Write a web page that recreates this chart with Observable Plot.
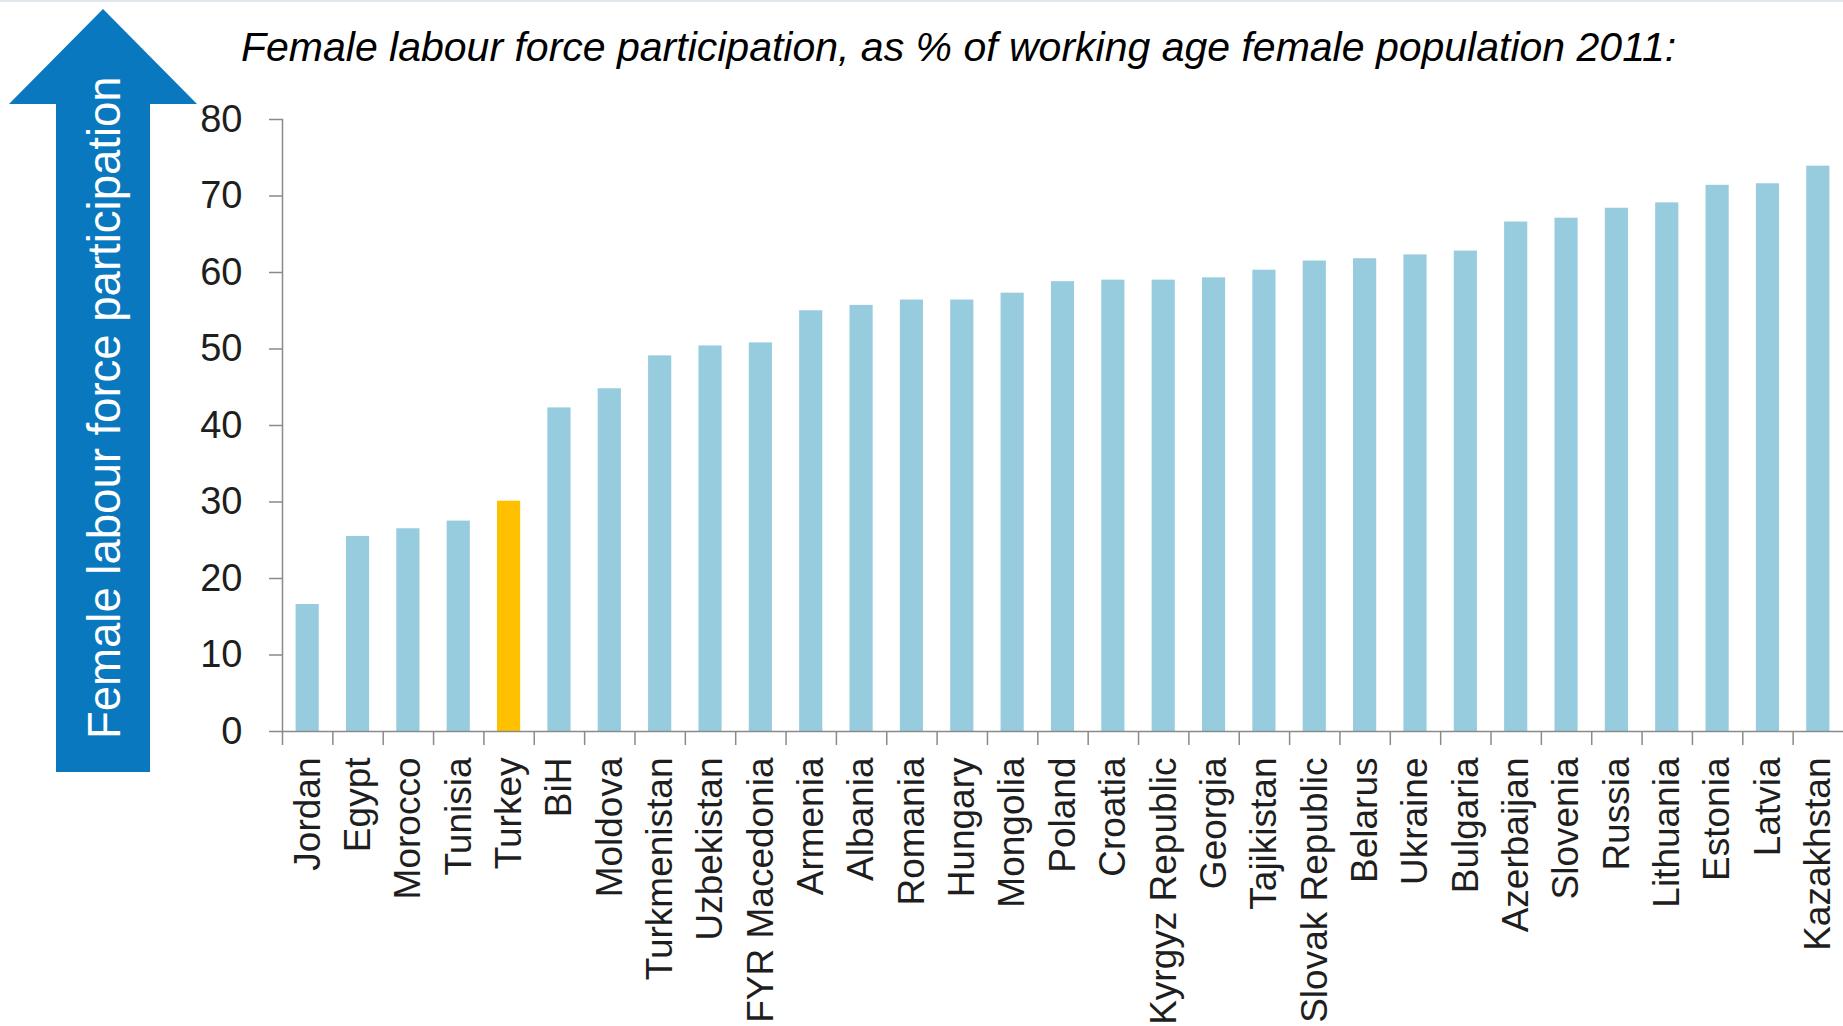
<!DOCTYPE html>
<html>
<head>
<meta charset="utf-8">
<script src="https://cdn.jsdelivr.net/npm/d3@7"></script>
<script src="https://cdn.jsdelivr.net/npm/@observablehq/plot@0.6"></script>
<style>
  body { margin: 0; background: #ffffff; }
  #wrap { position: relative; width: 1843px; height: 1026px; overflow: hidden; }
  #wrap > svg { position: absolute; left: 0; top: 0; }
</style>
</head>
<body>
<div id="wrap"></div>
<script>
// Female labour force participation (% of working-age female population), 2011
const countries = [
  "Jordan", "Egypt", "Morocco", "Tunisia", "Turkey", "BiH", "Moldova",
  "Turkmenistan", "Uzbekistan", "FYR Macedonia", "Armenia", "Albania",
  "Romania", "Hungary", "Mongolia", "Poland", "Croatia", "Kyrgyz Republic",
  "Georgia", "Tajikistan", "Slovak Republic", "Belarus", "Ukraine",
  "Bulgaria", "Azerbaijan", "Slovenia", "Russia", "Lithuania", "Estonia",
  "Latvia", "Kazakhstan"
];
const values = [
  16.6, 25.5, 26.5, 27.5, 30.1, 42.3, 44.8,
  49.1, 50.4, 50.8, 55.0, 55.7,
  56.4, 56.4, 57.3, 58.8, 59.0, 59.0,
  59.3, 60.3, 61.5, 61.8, 62.3,
  62.8, 66.6, 67.1, 68.4, 69.1, 71.4,
  71.6, 73.9
];
const highlighted = ["Turkey"];
const yTicks = [0, 10, 20, 30, 40, 50, 60, 70, 80];
const titleText = "Female labour force participation, as % of working age female population 2011:";
const arrowLabel = "Female labour force participation";

const data = countries.map((country, i) => ({country, value: values[i]}));

// page layout
const W = 1843, H = 1026;
const margin = {left: 282, right: 0, top: 119, bottom: 295};
const step = (W - margin.left - margin.right) / countries.length;
const barInset = step * 0.27;

const axisGrey = "#8a8a8a";
const labelInk = "#1e1e1e";
const barBlue = "#96ccdd";
const barGold = "#ffc000";
const font = "'Liberation Sans', Arial, sans-serif";

const chart = Plot.plot({
  width: W,
  height: H,
  marginLeft: margin.left,
  marginRight: margin.right,
  marginTop: margin.top,
  marginBottom: margin.bottom,
  style: {fontFamily: font, background: "transparent", overflow: "visible"},
  x: {domain: countries, padding: 0, round: false, label: null},
  y: {domain: [0, 80], label: null},
  marks: [
    Plot.barY(data.filter(d => !highlighted.includes(d.country)), {
      x: "country", y: "value", fill: barBlue, insetLeft: barInset, insetRight: barInset
    }),
    Plot.barY(data.filter(d => highlighted.includes(d.country)), {
      x: "country", y: "value", fill: barGold, insetLeft: barInset, insetRight: barInset
    }),
    Plot.frame({anchor: "left", stroke: axisGrey, strokeWidth: 1.5}),
    Plot.ruleY([0], {stroke: axisGrey, strokeWidth: 1.5}),
    Plot.axisY({
      ticks: yTicks, tickSize: 13, tickPadding: 27, fontSize: 38,
      stroke: axisGrey, strokeWidth: 1.5, fill: labelInk, label: null
    }),
    // category labels, rotated to read upward
    Plot.axisX({
      tickSize: 0, tickPadding: 26, tickRotate: -90, fontSize: 37,
      fill: labelInk, label: null
    }),
    // tick marks between categories
    Plot.axisX({
      tickSize: 14, text: null, dx: -step / 2,
      stroke: axisGrey, strokeWidth: 1.5, label: null
    })
  ]
});

const wrap = document.getElementById("wrap");
wrap.appendChild(chart);

// title and the upward arrow on the left
const overlay = d3.create("svg")
  .attr("width", W)
  .attr("height", H)
  .style("font-family", font);

overlay.append("line")
  .attr("x1", 0).attr("x2", W).attr("y1", 1).attr("y2", 1)
  .attr("stroke", "#dfe6ec").attr("stroke-width", 2);

const arrow = {tipX: 103, tipY: 9, headLeft: 9, headRight: 197, headY: 104, shaftLeft: 56, shaftRight: 150, bottom: 772};
overlay.append("path")
  .attr("d", `M${arrow.tipX},${arrow.tipY} L${arrow.headRight},${arrow.headY} L${arrow.shaftRight},${arrow.headY}
              L${arrow.shaftRight},${arrow.bottom} L${arrow.shaftLeft},${arrow.bottom}
              L${arrow.shaftLeft},${arrow.headY} L${arrow.headLeft},${arrow.headY} Z`)
  .attr("fill", "#0a78bf");

overlay.append("text")
  .attr("transform", "translate(120,739) rotate(-90)")
  .attr("font-size", 45.5)
  .attr("fill", "#ffffff")
  .text(arrowLabel);

overlay.append("text")
  .attr("x", 241)
  .attr("y", 61)
  .attr("font-size", 41)
  .attr("font-style", "italic")
  .attr("fill", "#000000")
  .text(titleText);

wrap.appendChild(overlay.node());
</script>
</body>
</html>
